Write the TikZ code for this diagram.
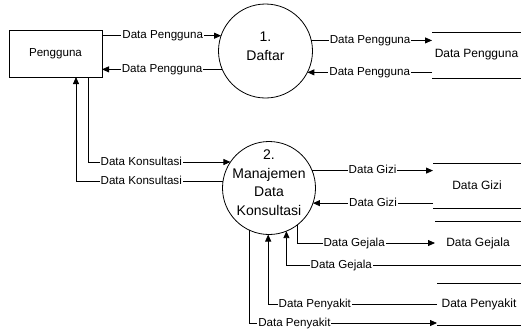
\documentclass[tikz,border=0pt]{standalone}
\usepackage{fontspec}
\setmainfont{Liberation Sans}
\usetikzlibrary{arrows.meta}
\begin{document}
\begin{tikzpicture}[x=1pt,y=-1pt,line width=0.8pt,
  flow/.style={draw,-{Triangle[length=7pt,width=6pt]}},
  lbl/.style={fill=white,inner xsep=1pt,inner ysep=0.5pt,font=\fontsize{11.6}{13}\selectfont,text height=8.4pt,text depth=2.4pt},
  proc/.style={circle,draw,minimum size=#1,inner sep=0pt,outer sep=0pt,font=\fontsize{14}{18.5}\selectfont},
  ext/.style={rectangle,draw,inner sep=0pt,outer sep=0pt,minimum width=93pt,minimum height=47pt,font=\fontsize{11.6}{13}\selectfont},
  store/.style={rectangle,inner sep=0pt,outer sep=0pt,font=\fontsize{12}{14}\selectfont}
]
\useasboundingbox (0,0) rectangle (521,333);

\node[ext] (box) at (55.5,53.5) {Pengguna};
\node[proc=94pt] (c1) at (265.5,51) {\smash{\makebox[0pt]{\begin{tabular}{@{}c@{}}1.\\Daftar\end{tabular}}}};
\node[proc=93pt] (c2) at (269,188) {\smash{\makebox[0pt]{\raisebox{0.6pt}{\begin{tabular}{@{}c@{}}2.\\Manajemen\\Data\\Konsultasi\end{tabular}}}}};

\node[store,minimum width=89pt,minimum height=46pt] (s1) at (476.5,55) {Data Pengguna};
\node[store,minimum width=88pt,minimum height=45pt] (s2) at (477,185.5) {Data Gizi};
\node[store,minimum width=86pt,minimum height=44pt] (s3) at (478,243) {Data Gejala};
\node[store,minimum width=84pt,minimum height=42pt] (s4) at (479,304) {Data Penyakit};

\foreach \s in {s1,s2,s3,s4}{
  \draw (\s.north west) -- (\s.north east) (\s.south west) -- (\s.south east);
}

% Pengguna <-> Daftar
\draw[flow] (box.east |- c1.161.4) -- (c1.161.4) node[lbl,pos=0.51]{Data Pengguna};
\draw[flow] (c1.203.8) -- (c1.203.8 -| box.east) node[lbl,pos=0.5]{Data Pengguna};
% Daftar <-> store
\draw[flow] (c1.13.5) -- (c1.13.5 -| s1.west) node[lbl,pos=0.487]{Data Pengguna};
\draw[flow] (c1.333.5 -| s1.west) -- (c1.333.5) node[lbl,pos=0.5]{Data Pengguna};

% Konsultasi
\draw[flow] ([xshift=32.5pt]box.south) |- (c2.146) node[lbl,pos=0.687]{Data Konsultasi};
\draw[flow] (c2.172.6) -| ([xshift=20.5pt]box.south) node[lbl,pos=0.278]{Data Konsultasi};

% Gizi
\draw[flow] (c2.22.8) -- (c2.22.8 -| s2.west) node[lbl,pos=0.5]{Data Gizi};
\draw[flow] (c2.341.2 -| s2.west) -- (c2.341.2) node[lbl,pos=0.5]{Data Gizi};

% Gejala
\draw[flow] (c2.307) |- (s3.west) node[lbl,pos=0.707]{Data Gejala};
\draw[flow] (s3.south east) -| (c2.292.8) node[lbl,pos=0.383]{Data Gejala};

% Penyakit
\draw[flow] (s4.west) -| (c2.269.4) node[lbl,pos=0.362]{Data Penyakit};
\draw[flow] (c2.245.9) |- ([yshift=2pt]s4.south west) node[lbl,pos=0.62]{Data Penyakit};
\end{tikzpicture}
\end{document}
